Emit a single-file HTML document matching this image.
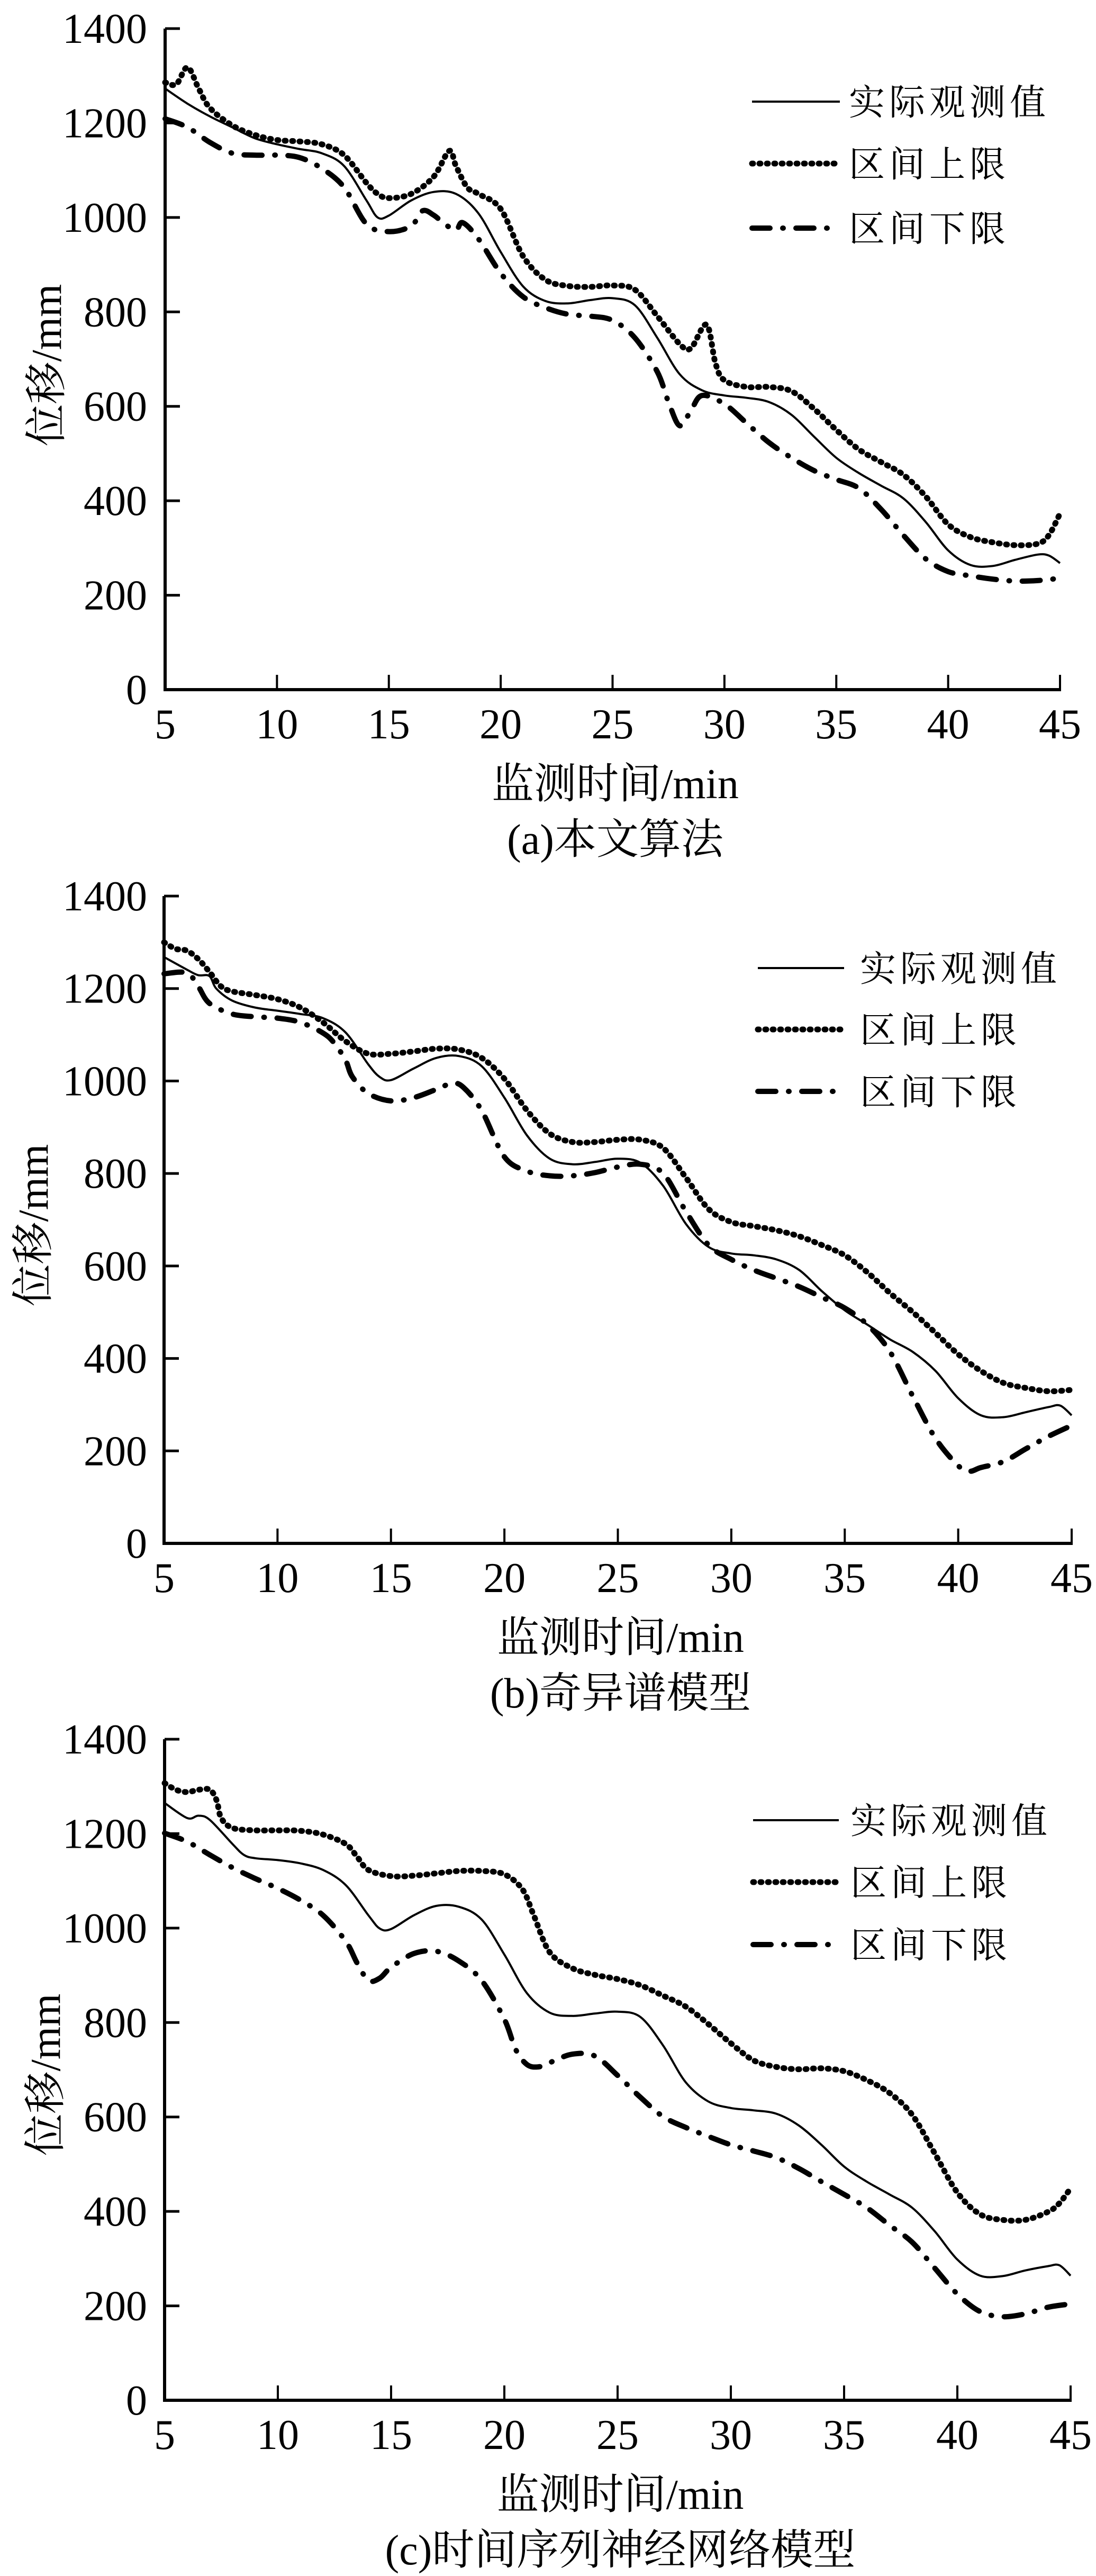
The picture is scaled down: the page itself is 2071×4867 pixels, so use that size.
<!DOCTYPE html>
<html><head><meta charset="utf-8">
<style>
html,body{margin:0;padding:0;background:#fff;}
svg{display:block;}
text{font-family:"Liberation Serif","Noto Serif CJK SC",serif;fill:#000;}
</style></head>
<body>
<svg id="chart" width="2071" height="4867" viewBox="0 0 2071 4867" xmlns="http://www.w3.org/2000/svg"></svg>
<script>
// ---- shared axis data ----
const xTicks = [5,10,15,20,25,30,35,40,45];
const yTicks = [0,200,400,600,800,1000,1200,1400];
const legendLabels = ["实际观测值","区间上限","区间下限"];

// ---- panel (a) 本文算法 ----
const aActT = [5,6,7,8,9,10,11,12,13,14,14.5,15,16,17,18,19,20,21,22,23,24,25,26,27,28,29,30,31,32,33,34,35,36,37,38,39,40,41,42,43,44,44.5,45];
const aActV = [1273,1241,1214,1191,1168,1155,1145,1136,1109,1036,1000,1004,1036,1054,1050,1009,927,854,823,818,825,829,814,745,668,634,623,618,609,582,536,491,459,432,405,355,295,264,262,275,286,284,268];
const aUpT = [5,5.5,6,6.5,7,8,9,10,11,12,13,14,14.5,15,16,17,17.7,18,18.5,19,20,21,22,23,24,25,26,27,28,28.5,29.2,29.6,30,31,32,33,34,35,36,37,38,39,40,41,42,43,44,44.5,45];
const aUpV = [1286,1282,1318,1273,1232,1195,1175,1164,1161,1155,1132,1073,1050,1041,1050,1086,1141,1109,1064,1050,1018,918,868,855,853,856,847,791,732,723,773,691,655,641,641,632,595,550,509,482,455,409,350,323,312,306,309,327,373];
const aLoT = [5,6,7,8,9,10,11,12,13,14,15,16,16.5,17,17.5,18,18.3,19,20,21,22,23,24,25,26,27,27.5,28,28.5,29,30,31,32,33,34,35,36,37,38,39,40,41,42,43,44,45];
const aLoV = [1209,1191,1159,1136,1132,1132,1127,1104,1064,986,970,982,1014,1005,986,973,989,955,882,832,809,795,791,782,745,673,609,559,591,623,605,564,523,491,464,445,427,382,327,277,250,241,234,230,231,236];

// ---- panel (b) 奇异谱模型 ----
const bActT = [5,6,6.5,7,7.3,8,9,10,11,12,13,14,14.5,15,16,17,18,19,20,21,22,23,24,25,26,27,28,29,30,31,32,33,34,35,36,37,38,39,40,41,42,43,44,44.5,45];
const bActV = [1268,1241,1229,1227,1200,1174,1159,1152,1145,1136,1105,1036,1009,1002,1027,1050,1054,1032,964,882,832,820,825,832,823,773,691,641,627,623,614,591,545,504,473,441,414,373,314,277,273,284,295,298,277];
const bUpT = [5,5.5,6,6.5,7,7.5,8,9,10,11,12,13,14,15,16,17,18,19,20,21,22,23,24,25,26,27,28,29,30,31,32,33,34,35,36,37,38,39,40,41,42,43,44,45];
const bUpV = [1300,1286,1282,1264,1236,1205,1194,1186,1177,1159,1127,1086,1059,1059,1064,1070,1068,1050,1005,936,886,868,868,873,873,855,791,723,695,686,677,664,645,623,586,541,500,455,409,373,347,336,329,332];
const bLoT = [5,6,6.5,7,8,9,10,11,12,12.5,13,13.3,14,15,16,17,17.7,18.2,19,20,21,22,23,24,25,26,27,28,29,30,31,32,33,34,35,36,37,38,39,40,40.5,41,42,43,44,45];
const bLoV = [1232,1234,1205,1168,1145,1139,1136,1127,1104,1082,1045,1009,973,957,964,982,995,986,936,836,805,795,795,802,814,820,800,718,645,614,591,573,555,532,509,473,414,318,227,168,156,164,177,205,232,255];

// ---- panel (c) 时间序列神经网络模型 ----
const cActT = [5,6,6.5,7,8,8.5,9,10,11,12,13,14,14.5,15,16,17,18,19,20,21,22,23,24,25,26,27,28,29,30,31,32,33,34,35,36,37,38,39,40,41,42,43,44,44.5,45];
const cActV = [1265,1233,1238,1229,1178,1155,1148,1144,1137,1123,1091,1027,999,998,1027,1047,1045,1018,944,862,821,814,819,823,812,752,674,633,619,614,607,582,541,495,463,436,408,358,298,264,263,275,284,286,264];
const cUpT = [5,5.5,6,6.5,7,7.3,7.5,8,9,10,11,12,13,13.5,14,15,16,17,18,19,20,20.8,21.3,22,23,24,25,26,27,28,29,30,31,32,33,34,35,36,37,38,39,40,41,42,43,44,44.5,45];
const cUpV = [1307,1293,1288,1293,1293,1270,1233,1212,1207,1207,1206,1198,1178,1151,1123,1110,1111,1116,1121,1121,1114,1082,1027,949,915,901,892,879,857,834,797,756,720,706,701,703,697,678,651,605,523,440,394,382,382,399,417,449];
const cLoT = [5,6,7,8,9,10,11,12,13,13.5,14,14.5,15,16,17,18,19,20,20.5,21,21.5,22,23,24,25,26,27,28,29,30,31,32,33,34,35,36,37,38,39,40,41,42,43,44,45];
const cLoV = [1201,1183,1155,1128,1105,1084,1059,1027,972,926,889,894,917,946,951,930,889,807,743,711,706,715,733,729,688,642,601,578,559,541,528,514,491,463,436,408,371,335,280,225,188,177,183,197,204];

const NS = "http://www.w3.org/2000/svg";
const svg = document.getElementById('chart');

function mk(tag, attrs, parent){
  const e = document.createElementNS(NS, tag);
  for (const k in attrs) e.setAttribute(k, attrs[k]);
  (parent||svg).appendChild(e);
  return e;
}

function smoothPath(pts){
  let d = "M" + pts[0][0].toFixed(1) + "," + pts[0][1].toFixed(1);
  for (let i=0;i<pts.length-1;i++){
    const p0 = pts[i-1]||pts[i], p1 = pts[i], p2 = pts[i+1], p3 = pts[i+2]||pts[i+1];
    const c1x = p1[0]+(p2[0]-p0[0])/6, c1y = p1[1]+(p2[1]-p0[1])/6;
    const c2x = p2[0]-(p3[0]-p1[0])/6, c2y = p2[1]-(p3[1]-p1[1])/6;
    d += " C"+c1x.toFixed(1)+","+c1y.toFixed(1)+" "+c2x.toFixed(1)+","+c2y.toFixed(1)+" "+p2[0].toFixed(1)+","+p2[1].toFixed(1);
  }
  return d;
}

const styles = [
  {w:4, dash:null, cap:"butt"},
  {w:11, dash:"2 12", cap:"round"},
  {w:10, dash:"34 24 1 24", cap:"round"}
];

const panels = [
  {id:"a", x0:312, x1:2003, y0:1303, y1:54, yLabX:87, yLabY:690, legY:[192,309,431], legX0:1421, legX1:1587, legT:1604, caption:"(a)本文算法",
   series:[[aActT,aActV],[aUpT,aUpV],[aLoT,aLoV]]},
  {id:"b", x0:310, x1:2025, y0:2916, y1:1693, yLabX:62, yLabY:2315, legY:[1829,1945,2062], legX0:1432, legX1:1595, legT:1625, caption:"(b)奇异谱模型",
   series:[[bActT,bActV],[bUpT,bUpV],[bLoT,bLoV]]},
  {id:"c", x0:311, x1:2023, y0:4535, y1:3286, yLabX:85, yLabY:3920, legY:[3439,3556,3674], legX0:1423, legX1:1585, legT:1607, caption:"(c)时间序列神经网络模型",
   series:[[cActT,cActV],[cUpT,cUpV],[cLoT,cLoV]]}
];

panels.forEach(P => {
  const g = mk('g', {});
  
  
  const X = t => P.x0 + (t-5)/(45-5)*(P.x1-P.x0);
  const Y = v => P.y0 + v/1400*(P.y1-P.y0);

  // axes
  const ya = mk('line', {x1:P.x0, y1:Y(0)+3, x2:P.x0, y2:Y(1400), stroke:"#000","stroke-width":6}, g);
  
  
  const xa = mk('line', {x1:P.x0-3, y1:Y(0), x2:X(45)+2, y2:Y(0), stroke:"#000","stroke-width":6}, g);
  
  

  yTicks.forEach(v => {
    if (v>0){
      const tk = mk('line', {x1:P.x0, y1:Y(v), x2:P.x0+28, y2:Y(v), stroke:"#000","stroke-width":5}, g);
      
      
    }
    const tl = mk('text', {x:278, y:Y(v)+27, "font-size":80, "text-anchor":"end"}, g);
    tl.textContent = v;
    
    
  });
  xTicks.forEach(t => {
    if (t>5){
      const tk = mk('line', {x1:X(t), y1:Y(0), x2:X(t), y2:Y(0)-28, stroke:"#000","stroke-width":4}, g);
      
      
    }
    const tl = mk('text', {x:X(t), y:Y(0)+92, "font-size":80, "text-anchor":"middle"}, g);
    tl.textContent = t;
    
    
  });

  const xt = mk('text', {x:(P.x0+P.x1)/2+5, y:Y(0)+205, "font-size":80, "text-anchor":"middle"}, g);
  xt.textContent = "监测时间/min";
  
  

  const cap = mk('text', {x:(P.x0+P.x1)/2+5, y:Y(0)+310, "font-size":80, "text-anchor":"middle"}, g);
  cap.textContent = P.caption;
  
  

  const yt = mk('text', {x:0, y:0, "font-size":80, "text-anchor":"middle", transform:"translate("+(P.yLabX+28)+","+P.yLabY+") rotate(-90)"}, g);
  yt.textContent = "位移/mm";
  
  

  // series
  const names = ['actual-line','upper-bound-line','lower-bound-line'];
  P.series.forEach((s, i) => {
    const pts = s[0].map((t,k) => [X(t), Y(s[1][k])]);
    const st = styles[i];
    const attrs = {d:smoothPath(pts), fill:"none", stroke:"#000", "stroke-width":st.w, "stroke-linecap":st.cap, "stroke-linejoin":"round"};
    if (st.dash) attrs["stroke-dasharray"] = st.dash;
    const p = mk('path', attrs, g);
    
    
  });

  // legend
  legendLabels.forEach((lab, i) => {
    const st = styles[i];
    const la = {x1:P.legX0, y1:P.legY[i], x2:P.legX1, y2:P.legY[i], stroke:"#000", "stroke-width":st.w, "stroke-linecap":st.cap};
    if (st.dash) la["stroke-dasharray"] = st.dash;
    const ln = mk('line', la, g);
    
    
    const tx = mk('text', {x:P.legT, y:P.legY[i]+25, "font-size":68, "letter-spacing":8}, g);
    tx.textContent = lab;
    
    
  });
});
</script>
</body></html>
